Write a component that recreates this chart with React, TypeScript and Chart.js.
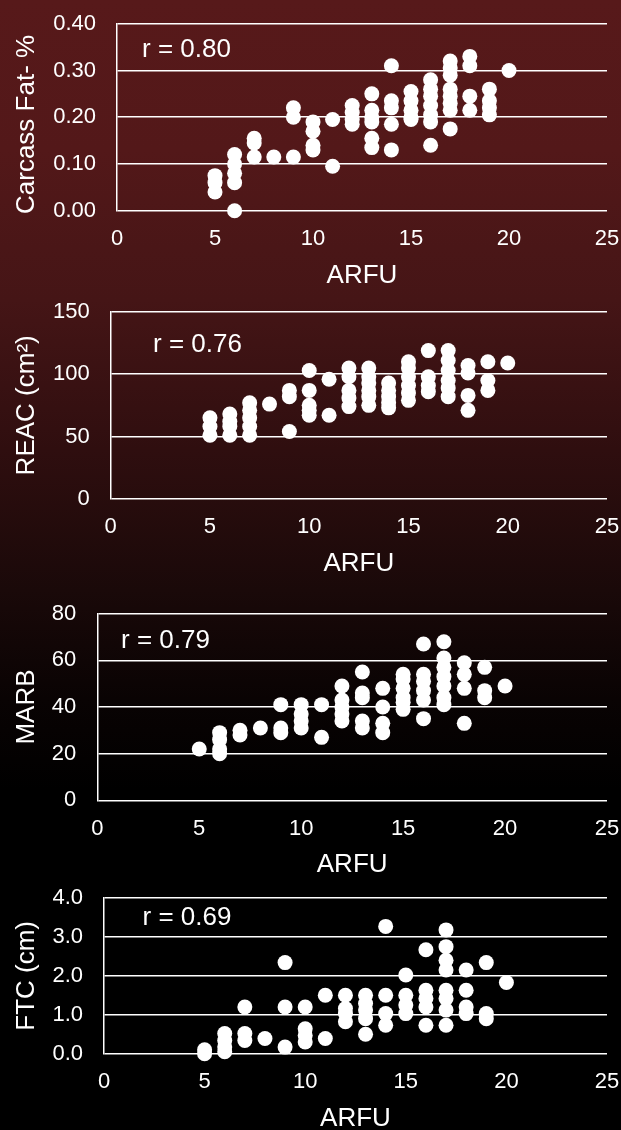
import React, { useEffect, useRef } from "react";
import { Chart, registerables } from "chart.js";

Chart.register(...registerables);

// ---------- DATA ----------
const arfuMin = 0;
const arfuMax = 25;
const arfuStep = 5;
const xTitle = "ARFU";

// Carcass Fat
const fatX = [
  5, 5, 5,
  6, 6, 6, 6, 6,
  7, 7, 7,
  8,
  9, 9, 9,
  10, 10, 10, 10,
  11, 11,
  12, 12, 12, 12,
  13, 13, 13, 13, 13, 13,
  14, 14, 14, 14, 14,
  15, 15, 15, 15, 15,
  16, 16, 16, 16, 16, 16, 16,
  17, 17, 17, 17, 17, 17, 17, 17,
  18, 18, 18, 18,
  19, 19, 19, 19,
  20,
];
const fatY = [
  0.04, 0.06, 0.075,
  0.0, 0.06, 0.08, 0.1, 0.12,
  0.115, 0.145, 0.155,
  0.115,
  0.115, 0.2, 0.22,
  0.13, 0.14, 0.17, 0.19,
  0.095, 0.195,
  0.185, 0.195, 0.21, 0.225,
  0.135, 0.155, 0.19, 0.2, 0.215, 0.25,
  0.13, 0.185, 0.22, 0.235, 0.31,
  0.195, 0.2, 0.215, 0.235, 0.255,
  0.14, 0.19, 0.205, 0.225, 0.245, 0.26, 0.28,
  0.175, 0.215, 0.23, 0.245, 0.26, 0.29, 0.305, 0.32,
  0.215, 0.245, 0.31, 0.33,
  0.205, 0.22, 0.235, 0.26,
  0.3,
];

// REAC
const reacX = [
  5, 5, 5,
  6, 6, 6, 6,
  7, 7, 7, 7, 7,
  8,
  9, 9, 9,
  10, 10, 10, 10, 10,
  11, 11,
  12, 12, 12, 12, 12,
  13, 13, 13, 13, 13, 13,
  14, 14, 14, 14, 14,
  15, 15, 15, 15, 15, 15,
  16, 16, 16, 16,
  17, 17, 17, 17, 17, 17,
  18, 18, 18, 18,
  19, 19, 19,
  20,
];
const reacY = [
  51, 58, 65,
  51, 58, 62, 68,
  51, 58, 65, 71, 77,
  76,
  54, 82, 87,
  67, 71, 75, 87, 103,
  67, 96,
  74, 81, 87, 98, 105,
  75, 82, 87, 93, 98, 105,
  73, 77, 82, 87, 93,
  79, 85, 91, 98, 105, 110,
  86, 91, 98, 119,
  82, 89, 95, 103, 111, 119,
  71, 83, 101, 107,
  87, 95, 110,
  109,
];

// MARB
const marbX = [
  5,
  6, 6, 6, 6,
  7, 7,
  8,
  9, 9, 9,
  10, 10, 10, 10,
  11, 11,
  12, 12, 12, 12, 12,
  13, 13, 13, 13, 13,
  14, 14, 14, 14,
  15, 15, 15, 15, 15, 15,
  16, 16, 16, 16, 16, 16,
  17, 17, 17, 17, 17, 17, 17,
  18, 18, 18, 18,
  19, 19, 19,
  20,
];
const marbY = [
  22,
  20, 22, 26, 29,
  28, 30,
  31,
  29, 31, 41,
  31, 34, 37, 41,
  27, 41,
  34, 37, 40, 43, 49,
  31, 34, 44, 46, 55,
  29, 33, 40, 48,
  39, 42, 44, 48, 52, 54,
  35, 43, 47, 51, 54, 67,
  41, 44, 49, 53, 57, 61, 68,
  33, 48, 54, 59,
  44, 47, 57,
  49,
];

// FTC
const ftcX = [
  5, 5,
  6, 6, 6, 6,
  7, 7, 7,
  8,
  9, 9, 9,
  10, 10, 10, 10,
  11, 11,
  12, 12, 12, 12,
  13, 13, 13, 13, 13,
  14, 14, 14, 14,
  15, 15, 15, 15,
  16, 16, 16, 16, 16,
  17, 17, 17, 17, 17, 17, 17, 17,
  18, 18, 18, 18,
  19, 19, 19,
  20,
];
const ftcY = [
  0.0, 0.1,
  0.05, 0.17, 0.34, 0.52,
  0.34, 0.52, 1.2,
  0.39,
  0.17, 1.2, 2.34,
  0.3, 0.47, 0.64, 1.2,
  0.39, 1.5,
  0.82, 1.03, 1.16, 1.5,
  0.5, 0.9, 1.12, 1.29, 1.5,
  0.73, 1.03, 1.5, 3.27,
  1.03, 1.25, 1.5, 2.02,
  0.73, 1.2, 1.42, 1.63, 2.67,
  0.73, 1.12, 1.42, 1.63, 2.15, 2.4, 2.75, 3.18,
  1.03, 1.2, 1.63, 2.15,
  0.9, 1.03, 2.34,
  1.83,
];

const rLabels = ["r = 0.80", "r = 0.76", "r = 0.79", "r = 0.69"];
const yTitles = ["Carcass Fat- %  ", "REAC (cm\u00B2)", "MARB", "FTC (cm)"];

// ---------- LAYOUT ----------
const FONT = "'Liberation Sans', Arial, sans-serif";
const W = 621;
const H = 1130;

type Spec = {
  xs: number[];
  ys: number[];
  yMin: number;
  yMax: number;
  yStep: number;
  decimals: number;
  yTitle: string;
  rText: string;
  plotTop: number;
  plotBottom: number;
  plotLeft: number;
  dx: number;
  dy: number;
};

const specs: Spec[] = [
  { xs: fatX, ys: fatY, yMin: 0, yMax: 0.4, yStep: 0.1, decimals: 2, yTitle: yTitles[0], rText: rLabels[0], plotTop: 23.7, plotBottom: 210.7, plotLeft: 117, dx: 25, dy: 26.3 },
  { xs: reacX, ys: reacY, yMin: 0, yMax: 150, yStep: 50, decimals: 0, yTitle: yTitles[1], rText: rLabels[1], plotTop: 312, plotBottom: 498.7, plotLeft: 110.7, dx: 42.3, dy: 33 },
  { xs: marbX, ys: marbY, yMin: 0, yMax: 80, yStep: 20, decimals: 0, yTitle: yTitles[2], rText: rLabels[2], plotTop: 613.7, plotBottom: 800.3, plotLeft: 97.3, dx: 23.7, dy: 27.3 },
  { xs: ftcX, ys: ftcY, yMin: 0, yMax: 4, yStep: 1, decimals: 1, yTitle: yTitles[3], rText: rLabels[3], plotTop: 898, plotBottom: 1053.7, plotLeft: 104, dx: 38.5, dy: 19.5 },
];

const rTextPlugin = {
  id: "rtext",
  afterDraw(chart: any, _args: any, opts: any) {
    const { ctx, chartArea } = chart;
    ctx.save();
    ctx.font = `26px ${FONT}`;
    ctx.fillStyle = "#ffffff";
    ctx.textBaseline = "middle";
    ctx.textAlign = "left";
    ctx.fillText(opts.text, chartArea.left + opts.dx, chartArea.top + opts.dy);
    ctx.restore();
  },
};

const zeroPad = (s: any) => {
  s.paddingTop = 0;
  s.paddingBottom = 0;
  s.paddingLeft = 0;
  s.paddingRight = 0;
};

function Scatter({ spec }: { spec: Spec }) {
  const ref = useRef<HTMLCanvasElement | null>(null);
  const canvasTop = Math.floor(spec.plotTop - 20);
  const padTop = spec.plotTop - canvasTop;
  const h = Math.round(spec.plotBottom - canvasTop + 80);
  const xH = h - (spec.plotBottom - canvasTop);
  const plotRight = 607;

  useEffect(() => {
    if (!ref.current) return;
    const data = spec.xs.map((x, i) => ({ x, y: spec.ys[i] }));
    const chart = new Chart(ref.current, {
      type: "scatter",
      data: {
        datasets: [
          {
            data,
            pointRadius: 7.5,
            pointHoverRadius: 7.5,
            pointBorderWidth: 0,
            pointBackgroundColor: "#ffffff",
            backgroundColor: "#ffffff",
            borderColor: "#ffffff",
            clip: false as any,
          },
        ],
      },
      options: {
        animation: false,
        responsive: false,
        events: [],
        layout: { padding: { top: padTop, right: W - plotRight, bottom: 0, left: 0 } },
        plugins: {
          legend: { display: false },
          tooltip: { enabled: false },
          rtext: { text: spec.rText, dx: spec.dx, dy: spec.dy },
        } as any,
        scales: {
          x: {
            type: "linear",
            min: arfuMin,
            max: arfuMax,
            ticks: {
              stepSize: arfuStep,
              color: "#ffffff",
              font: { family: FONT, size: 22 },
              padding: 15.4,
              maxRotation: 0,
            },
            grid: { display: false, drawTicks: false },
            border: { display: false },
            title: {
              display: true,
              text: xTitle,
              color: "#ffffff",
              font: { family: FONT, size: 26 },
              padding: { top: 0, bottom: 0 },
            },
            afterFit: (s: any) => {
              s.height = xH;
              zeroPad(s);
            },
          },
          y: {
            type: "linear",
            min: spec.yMin,
            max: spec.yMax,
            ticks: {
              stepSize: spec.yStep,
              color: "#ffffff",
              font: { family: FONT, size: 22 },
              padding: 21,
              callback: (v: any) => Number(v).toFixed(spec.decimals),
            },
            grid: { color: "#ffffff", lineWidth: 1.5, drawTicks: false },
            border: { display: true, color: "#ffffff", width: 1.5 },
            title: {
              display: true,
              text: spec.yTitle,
              color: "#ffffff",
              font: { family: FONT, size: 26 },
              padding: { top: 11, bottom: 0 },
            },
            afterFit: (s: any) => {
              s.width = spec.plotLeft;
              zeroPad(s);
            },
          },
        },
      },
      plugins: [rTextPlugin as any],
    });
    return () => chart.destroy();
  }, []);

  return (
    <canvas
      ref={ref}
      width={W}
      height={h}
      style={{ position: "absolute", left: 0, top: canvasTop, width: W, height: h, display: "block" }}
    />
  );
}

export default function App() {
  return (
    <div
      style={{
        position: "absolute",
        left: 0,
        top: 0,
        width: W,
        height: H,
        overflow: "hidden",
        background:
          "linear-gradient(to bottom, #57191a 0px, #531819 150px, #451516 300px, #2f0e0f 450px, #1a0909 590px, #090303 700px, #000000 790px, #000000 1130px)",
      }}
    >
      {specs.map((s, i) => (
        <Scatter key={i} spec={s} />
      ))}
    </div>
  );
}
